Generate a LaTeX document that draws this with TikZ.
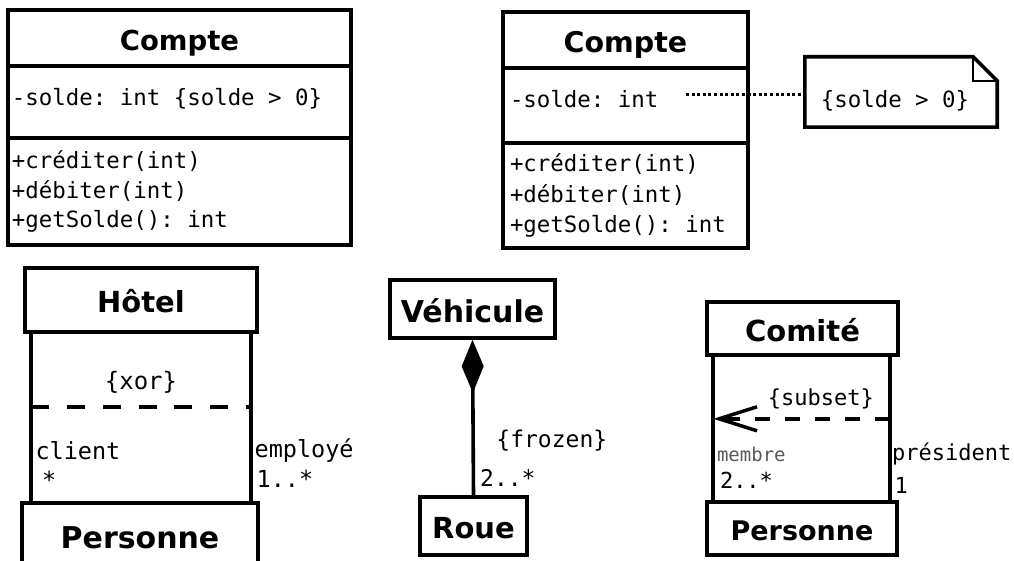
\documentclass[tikz,border=0pt]{standalone}
\usepackage{fontspec}
\setmonofont{DejaVu Sans Mono}[WordSpace={1,0,0}]
\newfontfamily\clsfont{DejaVu Sans}
\usetikzlibrary{arrows.meta}

\begin{document}
\begin{tikzpicture}[x=1pt, y=-1pt,
  cls/.style={draw, line width=3.6pt, inner sep=0pt, text height=0.88*#1pt, text depth=0pt, font=\clsfont\bfseries\fontsize{#1}{#1}\selectfont},
  cls/.default=28,
  comp/.style={draw, line width=3.6pt, inner ysep=0pt, align=left, font=\ttfamily\fontsize{22.4}{#1}\selectfont,
    execute at begin node={\spaceskip=0pt\xspaceskip=0pt\frenchspacing}},
  comp/.default=29.5,
  assoc/.style={line width=3.6pt},
  role/.style={font=\ttfamily\fontsize{#1}{#1}\selectfont, inner sep=0pt, anchor=west},
  role/.default=22,
  cstr/.style={font=\ttfamily\fontsize{#1}{#1}\selectfont, inner sep=0pt},
  cstr/.default=22,
  dashline/.style={line width=3.5pt, dash pattern=on #1 off #1},
  dotline/.style={line width=3pt, dash pattern=on 3pt off 2.6pt}
]
\useasboundingbox (0,0) rectangle (1014,561);
\clip (0,0) rectangle (1014,561);

\node[cls=27.5, minimum width=343pt, minimum height=56pt] (cptA) at (179.5,38) {Compte};
\node[comp, inner xsep=4pt, text width=335pt, minimum height=72pt, text depth=11pt] (cptAattr) at (179.5,102) {-solde: int \{solde > 0\}};
\node[comp, inner xsep=4pt, text width=335pt, minimum height=107pt] (cptAops) at (179.5,191.5) {+créditer(int)\\+débiter(int)\\+getSolde(): int};

\node[cls=28.5, minimum width=245pt, minimum height=56pt] (cptB) at (625.5,40) {Compte};
\node[comp, inner xsep=7pt, text width=231pt, minimum height=75pt, text depth=14pt] (cptBattr) at (625.5,105.5) {-solde: int};
\node[comp=30.5, inner xsep=7pt, text width=231pt, minimum height=105pt] (cptBops) at (625.5,195.5) {+créditer(int)\\+débiter(int)\\+getSolde(): int};

\node[minimum width=192pt, minimum height=70pt, inner sep=0pt] (notebox) at (901,92) {};
\node[cstr=22.4] (note) at (895,101) {\{solde > 0\}};
\draw[assoc] (notebox.north west) -- ([xshift=-24pt]notebox.north east) -- ([yshift=-24pt]notebox.north east) -- (notebox.south east) -- (notebox.south west) -- cycle;
\draw[line width=1.8pt] ([xshift=-24pt]notebox.north east) -- ++(0,24) -- ([yshift=-24pt]notebox.north east);
\coordinate (dotS) at (686,95);
\draw[dotline] (dotS) -- (dotS -| notebox.west);

\node[cls=29, minimum width=232pt, minimum height=64pt] (hotel) at (141,300) {Hôtel};
\node[cls=30, minimum width=236pt, minimum height=64pt] (persA) at (140,535) {Personne};
\coordinate (hl) at ([xshift=8pt]hotel.south west);
\coordinate (hr) at ([xshift=-8pt]hotel.south east);
\draw[assoc] (hl) -- (hl |- persA.north)
  node[role=23.5, pos=.70, xshift=2.5pt] {client}
  node[role=23.5, pos=.87, xshift=9pt] {*};
\draw[assoc] (hr) -- (hr |- persA.north)
  node[role=23.5, pos=.70, xshift=2pt] {employé}
  node[role=23.5, pos=.865, xshift=4pt] {1..*};
\coordinate (xl) at ([yshift=-73pt]hl);
\draw[dashline=17.9pt] (xl) -- (xl -| hr) node[cstr=24, midway, above=12pt] {\{xor\}};

\node[cls=30, minimum width=165pt, minimum height=58pt] (veh) at (472.5,309) {Véhicule};
\node[cls=29, minimum width=107pt, minimum height=58pt] (roue) at (473.5,526) {Roue};
\draw[assoc, {Diamond[length=53pt, width=22pt]}-] (veh.south) -- (roue.north)
  node[role=23, pos=.65, xshift=21.5pt] {\{frozen\}}
  node[role=23, pos=.89, xshift=5pt] {2..*};

\node[cls=29, minimum width=191pt, minimum height=53pt] (comite) at (802.5,328.5) {Comité};
\node[cls=27, minimum width=190pt, minimum height=53pt] (persB) at (802,528.5) {Personne};
\coordinate (cl) at ([xshift=8pt]comite.south west);
\coordinate (cr) at ([xshift=-10pt]comite.south east);
\draw[assoc] (cl) -- (cl |- persB.north)
  node[role=19, pos=.68, xshift=2pt, text=black!65] {membre}
  node[role, pos=.86, xshift=5pt] {2..*};
\draw[assoc] (cr) -- (cr |- persB.north)
  node[role, pos=.68, xshift=0.5pt] {président}
  node[role, pos=.90, xshift=3pt] {1};
\coordinate (sr) at ([yshift=-62pt]cr);
\draw[dashline=15pt, -{Straight Barb[length=38pt, width=24pt]}] (sr) -- (sr -| cl)
  node[cstr, pos=.39, above=8pt] {\{subset\}};
\end{tikzpicture}
\end{document}
